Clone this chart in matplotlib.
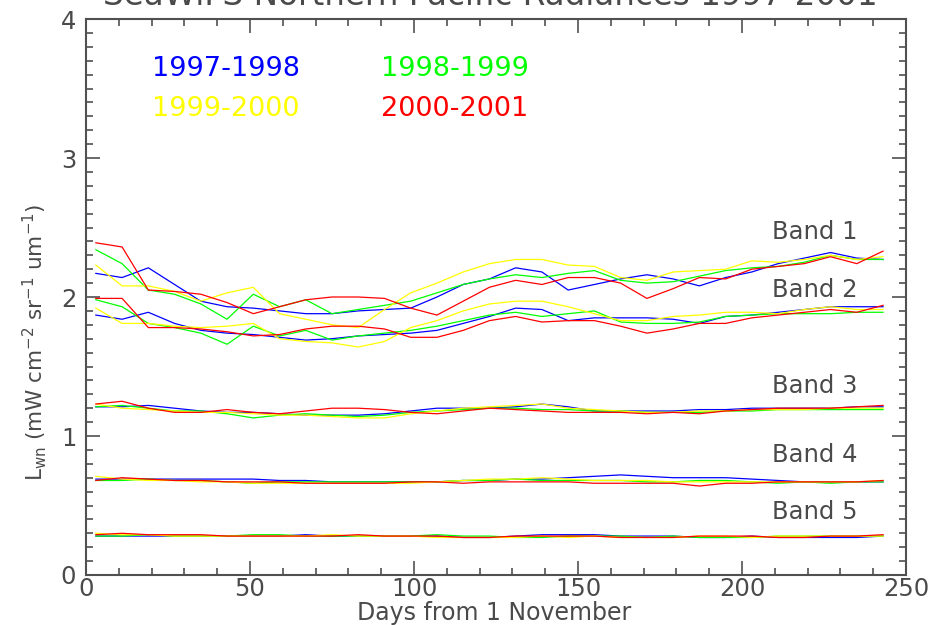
import numpy as np
import matplotlib
matplotlib.use("Agg")
import matplotlib.pyplot as plt
from matplotlib.ticker import MultipleLocator

# days from 1 November (8-day composites)
days = [3, 11, 19, 27, 35, 43, 51, 59, 67, 75, 83, 91, 99, 107, 115, 123,
        131, 139, 147, 155, 163, 171, 179, 187, 195, 203, 211, 219, 227, 235, 243]

seasons = ["1997-1998", "1998-1999", "1999-2000", "2000-2001"]
season_colors = ["#0000ff", "#00ff00", "#ffff00", "#ff0000"]

# Band 1
b1_9798 = [2.17, 2.14, 2.21, 2.09, 1.97, 1.93, 1.92, 1.90, 1.88, 1.88, 1.90, 1.91, 1.92, 2.00, 2.09, 2.13,
           2.21, 2.18, 2.05, 2.09, 2.13, 2.16, 2.13, 2.08, 2.14, 2.18, 2.24, 2.28, 2.32, 2.28, 2.27]
b1_9899 = [2.34, 2.24, 2.05, 2.02, 1.95, 1.84, 2.02, 1.93, 1.98, 1.88, 1.91, 1.94, 1.97, 2.03, 2.09, 2.13,
           2.16, 2.14, 2.17, 2.19, 2.12, 2.10, 2.11, 2.15, 2.19, 2.21, 2.22, 2.25, 2.30, 2.27, 2.27]
b1_9900 = [2.23, 2.08, 2.08, 2.04, 1.97, 2.03, 2.07, 1.88, 1.84, 1.80, 1.78, 1.91, 2.03, 2.10, 2.18, 2.24,
           2.27, 2.27, 2.23, 2.22, 2.14, 2.12, 2.18, 2.19, 2.20, 2.26, 2.25, 2.27, 2.30, 2.27, 2.29]
b1_0001 = [2.39, 2.36, 2.05, 2.04, 2.02, 1.96, 1.88, 1.93, 1.98, 2.00, 2.00, 1.99, 1.92, 1.87, 1.97, 2.07,
           2.12, 2.09, 2.14, 2.14, 2.10, 1.99, 2.06, 2.14, 2.13, 2.20, 2.22, 2.24, 2.29, 2.24, 2.33]

# Band 2
b2_9798 = [1.87, 1.84, 1.89, 1.81, 1.76, 1.74, 1.73, 1.71, 1.69, 1.70, 1.72, 1.73, 1.74, 1.76, 1.81, 1.86,
           1.92, 1.91, 1.83, 1.85, 1.85, 1.85, 1.84, 1.81, 1.86, 1.87, 1.89, 1.91, 1.93, 1.93, 1.93]
b2_9899 = [1.98, 1.93, 1.81, 1.78, 1.74, 1.66, 1.79, 1.72, 1.76, 1.69, 1.72, 1.74, 1.76, 1.79, 1.83, 1.87,
           1.89, 1.86, 1.88, 1.90, 1.82, 1.81, 1.81, 1.82, 1.86, 1.87, 1.88, 1.88, 1.88, 1.89, 1.89]
b2_9900 = [1.92, 1.81, 1.81, 1.79, 1.78, 1.79, 1.81, 1.70, 1.68, 1.67, 1.64, 1.68, 1.78, 1.83, 1.90, 1.95,
           1.97, 1.97, 1.93, 1.88, 1.83, 1.83, 1.86, 1.87, 1.89, 1.89, 1.88, 1.91, 1.93, 1.91, 1.91]
b2_0001 = [1.99, 1.99, 1.78, 1.78, 1.77, 1.75, 1.72, 1.73, 1.77, 1.79, 1.79, 1.77, 1.71, 1.71, 1.76, 1.83,
           1.86, 1.82, 1.83, 1.83, 1.79, 1.74, 1.77, 1.81, 1.81, 1.85, 1.87, 1.89, 1.91, 1.89, 1.94]

# Band 3
b3_9798 = [1.21, 1.21, 1.22, 1.20, 1.18, 1.17, 1.17, 1.16, 1.15, 1.15, 1.15, 1.16, 1.18, 1.20, 1.20, 1.20,
           1.21, 1.23, 1.21, 1.18, 1.18, 1.18, 1.18, 1.19, 1.19, 1.20, 1.20, 1.20, 1.20, 1.21, 1.21]
b3_9899 = [1.21, 1.22, 1.20, 1.18, 1.18, 1.16, 1.13, 1.15, 1.16, 1.15, 1.14, 1.15, 1.17, 1.18, 1.19, 1.20,
           1.20, 1.19, 1.19, 1.18, 1.18, 1.17, 1.17, 1.17, 1.18, 1.18, 1.19, 1.19, 1.19, 1.19, 1.19]
b3_9900 = [1.23, 1.20, 1.19, 1.18, 1.17, 1.17, 1.16, 1.15, 1.15, 1.14, 1.13, 1.13, 1.16, 1.18, 1.20, 1.21,
           1.22, 1.23, 1.20, 1.19, 1.18, 1.17, 1.17, 1.18, 1.18, 1.19, 1.19, 1.19, 1.20, 1.20, 1.20]
b3_0001 = [1.23, 1.25, 1.20, 1.17, 1.17, 1.19, 1.17, 1.16, 1.18, 1.20, 1.20, 1.19, 1.17, 1.16, 1.18, 1.20,
           1.19, 1.18, 1.17, 1.17, 1.17, 1.16, 1.17, 1.16, 1.18, 1.19, 1.20, 1.20, 1.20, 1.21, 1.22]

# Band 4
b4_9798 = [0.69, 0.69, 0.69, 0.69, 0.69, 0.69, 0.69, 0.68, 0.68, 0.67, 0.67, 0.67, 0.67, 0.67, 0.68, 0.68,
           0.69, 0.69, 0.70, 0.71, 0.72, 0.71, 0.70, 0.70, 0.70, 0.69, 0.68, 0.67, 0.67, 0.67, 0.67]
b4_9899 = [0.68, 0.68, 0.69, 0.68, 0.68, 0.67, 0.66, 0.67, 0.67, 0.67, 0.67, 0.67, 0.67, 0.67, 0.68, 0.68,
           0.69, 0.68, 0.68, 0.68, 0.68, 0.67, 0.67, 0.68, 0.68, 0.67, 0.66, 0.67, 0.66, 0.67, 0.67]
b4_9900 = [0.71, 0.69, 0.68, 0.68, 0.67, 0.67, 0.66, 0.66, 0.66, 0.66, 0.66, 0.66, 0.66, 0.67, 0.68, 0.69,
           0.69, 0.70, 0.69, 0.68, 0.68, 0.68, 0.67, 0.67, 0.67, 0.67, 0.67, 0.67, 0.67, 0.67, 0.68]
b4_0001 = [0.68, 0.70, 0.69, 0.68, 0.68, 0.67, 0.67, 0.67, 0.66, 0.66, 0.66, 0.66, 0.67, 0.67, 0.66, 0.67,
           0.67, 0.67, 0.67, 0.66, 0.66, 0.66, 0.66, 0.64, 0.66, 0.66, 0.67, 0.67, 0.67, 0.67, 0.68]

# Band 5
b5_9798 = [0.28, 0.28, 0.28, 0.28, 0.28, 0.28, 0.28, 0.28, 0.29, 0.28, 0.28, 0.28, 0.28, 0.28, 0.27, 0.27,
           0.28, 0.29, 0.29, 0.29, 0.28, 0.28, 0.28, 0.27, 0.27, 0.28, 0.27, 0.27, 0.27, 0.27, 0.28]
b5_9899 = [0.28, 0.28, 0.29, 0.28, 0.28, 0.28, 0.29, 0.29, 0.28, 0.28, 0.28, 0.28, 0.28, 0.29, 0.28, 0.28,
           0.27, 0.27, 0.28, 0.28, 0.28, 0.27, 0.28, 0.27, 0.27, 0.27, 0.28, 0.28, 0.28, 0.28, 0.28]
b5_9900 = [0.30, 0.29, 0.29, 0.28, 0.28, 0.28, 0.28, 0.28, 0.28, 0.29, 0.28, 0.28, 0.28, 0.27, 0.27, 0.27,
           0.27, 0.28, 0.27, 0.28, 0.27, 0.27, 0.27, 0.28, 0.28, 0.27, 0.28, 0.28, 0.28, 0.28, 0.28]
b5_0001 = [0.29, 0.30, 0.29, 0.29, 0.29, 0.28, 0.28, 0.28, 0.28, 0.28, 0.29, 0.28, 0.28, 0.28, 0.27, 0.27,
           0.28, 0.28, 0.28, 0.28, 0.27, 0.27, 0.27, 0.28, 0.28, 0.28, 0.27, 0.27, 0.28, 0.28, 0.29]

bands = [
    [b1_9798, b1_9899, b1_9900, b1_0001],
    [b2_9798, b2_9899, b2_9900, b2_0001],
    [b3_9798, b3_9899, b3_9900, b3_0001],
    [b4_9798, b4_9899, b4_9900, b4_0001],
    [b5_9798, b5_9899, b5_9900, b5_0001],
]
band_labels = ["Band 1", "Band 2", "Band 3", "Band 4", "Band 5"]
band_label_y = [2.47, 2.05, 1.36, 0.86, 0.45]

TXT = "#4a4a4a"
FS = 17.5

fig = plt.figure(figsize=(9.29, 6.25), dpi=100)
ax = fig.add_axes([86 / 929, 1 - 575 / 625, 820 / 929, 556 / 625])

for band in bands:
    for series, col in zip(band, season_colors):
        ax.plot(days, series, color=col, lw=0.9)

for lab, yy in zip(band_labels, band_label_y):
    ax.text(209, yy, lab, fontsize=FS, color=TXT, va="center", ha="left")

# season key
key_pos = [(20, 3.64), (90, 3.64), (20, 3.35), (90, 3.35)]
for (kx, ky), s, col in zip(key_pos, seasons, season_colors):
    ax.text(kx, ky, s, fontsize=19.5, color=col, va="center", ha="left")

ax.set_xlim(0, 250)
ax.set_ylim(0, 4)
ax.xaxis.set_major_locator(MultipleLocator(50))
ax.xaxis.set_minor_locator(MultipleLocator(10))
ax.yaxis.set_major_locator(MultipleLocator(1))
ax.yaxis.set_minor_locator(MultipleLocator(0.1))
ax.tick_params(which="both", direction="in", top=True, right=True, color="#505050",
               labelsize=FS, labelcolor=TXT, width=1.2)
ax.tick_params(which="major", length=10)
ax.tick_params(axis="x", which="major", pad=1.5)
ax.tick_params(axis="y", which="major", pad=7)
ax.tick_params(which="minor", length=5)
for sp in ax.spines.values():
    sp.set_color("#505050")
    sp.set_linewidth(1.5)

fig.text(490 / 929, 1 - 5 / 625, "SeaWiFS Northern Pacific Radiances 1997-2001",
         fontsize=23.5, color=TXT, ha="center", va="baseline")
fig.text(494 / 929, 1 - 613 / 625, "Days from 1 November",
         fontsize=17, color=TXT, ha="center", va="center")
fig.text(35 / 929, 1 - 342 / 625, r"L$_{\rm wn}$ (mW cm$^{-2}$ sr$^{-1}$ um$^{-1}$)",
         fontsize=15.5, color=TXT, ha="center", va="center", rotation=90)

fig.savefig("out.png", dpi=100)
